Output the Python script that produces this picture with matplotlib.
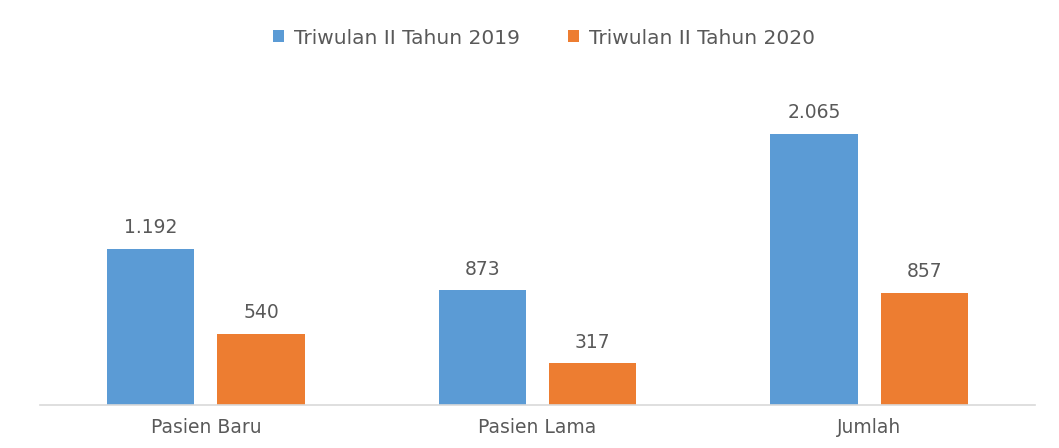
import matplotlib
matplotlib.use("Agg")
import matplotlib.pyplot as plt
import numpy as np

categories = ["Pasien Baru", "Pasien Lama", "Jumlah"]
series_names = ["Triwulan II Tahun 2019", "Triwulan II Tahun 2020"]
values_2019 = [1192, 873, 2065]
values_2020 = [540, 317, 857]
labels_2019 = ["1.192", "873", "2.065"]
labels_2020 = ["540", "317", "857"]

colors = ["#5B9BD5", "#ED7D31"]
text_color = "#595959"
plt.rcParams["font.family"] = ["DejaVu Sans"]

fig = plt.figure(figsize=(10.59, 4.48), dpi=100)
ax = fig.add_axes([40/1059, 43/448, 995/1059, 328/448])

x = np.arange(len(categories))
w = 0.263
off = w/2 + 0.035
b1 = ax.bar(x - off, values_2019, w, color=colors[0], label=series_names[0])
b2 = ax.bar(x + off, values_2020, w, color=colors[1], label=series_names[1])

for bars, labs in ((b1, labels_2019), (b2, labels_2020)):
    for r, lab in zip(bars, labs):
        ax.annotate(lab, (r.get_x() + r.get_width()/2, r.get_height()),
                    xytext=(0, 8.5), textcoords="offset points", ha="center", va="bottom",
                    fontsize=13.5, color=text_color)

ax.set_xlim(-0.5, 2.5)
ax.set_ylim(0, 2500)
ax.set_xticks(x)
ax.set_xticklabels(categories, fontsize=13.5, color=text_color)
ax.tick_params(axis="x", length=0, pad=9)
ax.set_yticks([])
for s in ("top", "left", "right"):
    ax.spines[s].set_visible(False)
ax.spines["bottom"].set_color("#D9D9D9")
ax.spines["bottom"].set_linewidth(1.2)

fig.legend(loc="center", bbox_to_anchor=(544/1059, 1 - 38/448), ncol=2, frameon=False,
           fontsize=14.5, labelcolor=text_color, handlelength=0.55, handleheight=0.55,
           handletextpad=0.5, columnspacing=2.4)

fig.savefig("out.png", dpi=100, facecolor="white")
